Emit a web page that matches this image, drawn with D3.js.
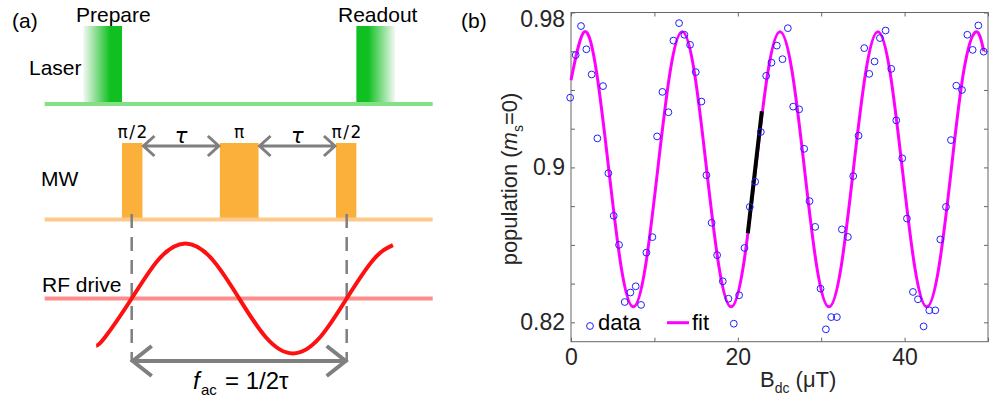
<!DOCTYPE html>
<html>
<head>
<meta charset="utf-8">
<script src="https://cdn.jsdelivr.net/npm/d3@7"></script>
<style>
    body { margin: 0; background: #fff; }
    svg { display: block; font-family: "Liberation Sans", Arial, sans-serif; }
</style>
</head>
<body>
<div id="chart"></div>
<script>
// ---- panel (b): measured population vs B_dc ----
const bField = [-0.1, 0.56, 1.2, 1.84, 2.48, 3.16, 3.84, 4.48, 5.12, 5.76,
    6.44, 7.12, 7.76, 8.4, 9.04, 9.76, 10.32, 10.96, 11.68, 12.28,
    12.96, 13.6, 14.28, 14.96, 15.64, 16.24, 16.86, 17.52, 18.2, 18.88,
    19.52, 20.16, 20.8, 21.44, 22.08, 22.76, 23.4, 24.04, 24.68, 25.36,
    26.0, 26.64, 27.36, 27.96, 28.6, 29.28, 29.92, 30.56, 31.2, 31.88,
    32.48, 33.2, 33.84, 34.48, 35.16, 35.76, 36.4, 37.04, 37.72, 38.4,
    39.0, 39.72, 40.28, 41.0, 41.6, 42.28, 42.96, 43.68, 44.28, 44.96,
    45.56, 46.2, 46.88, 47.52, 48.16, 48.84, 49.48];
const population = [0.936, 0.958, 0.973, 0.961, 0.948, 0.915, 0.942, 0.897, 0.875, 0.860,
    0.8305, 0.8354, 0.8386, 0.829, 0.856, 0.864, 0.916, 0.939, 0.9285, 0.9655,
    0.9745, 0.9685, 0.9633, 0.9492, 0.934, 0.896, 0.8714, 0.8547, 0.8412, 0.8322,
    0.8193, 0.834, 0.8584, 0.8796, 0.8926, 0.9183, 0.9473, 0.9541, 0.9629, 0.9559,
    0.9719, 0.9314, 0.930, 0.9096, 0.8826, 0.8693, 0.8374, 0.8164, 0.8227, 0.8227,
    0.868, 0.8641, 0.8955, 0.9164, 0.9616, 0.9483, 0.9547, 0.9668, 0.9707, 0.9509,
    0.9243, 0.9047, 0.8736, 0.8357, 0.8319, 0.8179, 0.8262, 0.8262, 0.8628, 0.8796,
    0.9141, 0.9422, 0.940, 0.9685, 0.9607, 0.9733, 0.9598];

// fit curve at ~1/8 period steps
const fitB = [0, 1.6, 3.07, 4.53, 6.0, 7.47, 8.93, 10.4, 11.87, 13.33,
    14.8, 16.26, 17.73, 19.2, 20.66, 22.13, 23.6, 25.06, 26.53, 28.0,
    29.46, 30.93, 32.4, 33.86, 35.33, 36.8, 38.26, 39.73, 41.2, 42.66,
    44.13, 45.6, 47.06, 48.53, 49.5];
const fitPop = [0.945, 0.970, 0.949, 0.899, 0.849, 0.828, 0.849, 0.899, 0.949, 0.970,
    0.949, 0.899, 0.849, 0.828, 0.849, 0.899, 0.949, 0.970, 0.949, 0.899,
    0.849, 0.828, 0.849, 0.899, 0.949, 0.970, 0.949, 0.899, 0.849, 0.828,
    0.849, 0.899, 0.949, 0.970, 0.960];

// black highlighted slope segment
const slopeB = [21.2, 22.88];
const slopePop = [0.866, 0.929];

const xTicks = [0, 10, 20, 30, 40, 50];
const xTickLabels = ["0", "", "20", "", "40", ""];
const yTicks = [0.82, 0.84, 0.86, 0.88, 0.90, 0.92, 0.94, 0.96, 0.98];
const yTickLabels = ["0.82", "", "", "", "0.9", "", "", "", "0.98"];

// ---- panel (a): pulse sequence, time in units of tau ----
const lineSpan = [-0.81, 2.8];
const laserPulses = [
    {label: "Prepare", start: -0.45, solid: -0.2, end: -0.09, fade: "left"},
    {label: "Readout", start: 2.09, solid: 2.2, end: 2.45, fade: "right"}
];
const mwPulses = [
    {label: "π/2", start: -0.09, end: 0.1},
    {label: "π", start: 0.82, end: 1.18},
    {label: "π/2", start: 1.9, end: 2.09}
];
const tauGaps = [[0.1, 0.82], [1.18, 1.9]];
const rfMarks = [0, 2];
// RF drive waveform (normalised amplitude)
const rfT = [-0.33, -0.25, 0, 0.25, 0.5, 0.75, 1.0, 1.25, 1.5, 1.75, 2.0, 2.25, 2.43];
const rfV = [-0.86, -0.71, 0, 0.71, 1, 0.71, 0, -0.71, -1, -0.71, 0, 0.71, 0.97];

const W = 997, H = 403;
const gray = "#7f7f7f";

class FigureD3 {
    margin = {top: 12.5, right: 9, bottom: 61.3, left: 571};
    width;
    height;
    svg;
    plotG;

    constructor(el){
        this.el = el;
    }

    create = function(){
        this.svg = d3.select(this.el).append("svg")
            .attr("width", W)
            .attr("height", H);
        this.defs = this.svg.append("defs");
        this.width = W - this.margin.left - this.margin.right;
        this.height = H - this.margin.top - this.margin.bottom;
    }

    arrow(g, x1, x2, y, head, spread, sw){
        const p = d3.path();
        p.moveTo(x1 + head, y - spread); p.lineTo(x1, y); p.lineTo(x1 + head, y + spread);
        p.moveTo(x1, y); p.lineTo(x2, y);
        p.moveTo(x2 - head, y - spread); p.lineTo(x2, y); p.lineTo(x2 - head, y + spread);
        g.append("path").attr("d", p.toString())
            .attr("fill", "none").attr("stroke", gray)
            .attr("stroke-width", sw).attr("stroke-linejoin", "miter");
    }

    renderSchematic(){
        const g = this.svg.append("g").attr("class", "schematic");
        const t = d3.scaleLinear().domain([0, 1]).range([131.7, 239.2]);
        const rfY = d3.scaleLinear().domain([-1, 1]).range([353.5, 243.5]);

        g.append("text").attr("x", 12).attr("y", 28).attr("font-size", 21).text("(a)");

        // laser row
        laserPulses.forEach((d, i) => {
            const id = "laserGrad" + i;
            const frac = (d.solid - d.start) / (d.end - d.start);
            const grad = this.defs.append("linearGradient").attr("id", id);
            if (d.fade === "left") {
                grad.append("stop").attr("offset", 0).attr("stop-color", "#f4f8f4");
                grad.append("stop").attr("offset", frac).attr("stop-color", "#10c020");
                grad.append("stop").attr("offset", 1).attr("stop-color", "#10c020");
            } else {
                grad.append("stop").attr("offset", 0).attr("stop-color", "#10c020");
                grad.append("stop").attr("offset", frac).attr("stop-color", "#10c020");
                grad.append("stop").attr("offset", 1).attr("stop-color", "#f4f8f4");
            }
            g.append("rect")
                .attr("x", t(d.start)).attr("y", 26)
                .attr("width", t(d.end) - t(d.start)).attr("height", 76)
                .attr("fill", `url(#${id})`);
        });
        g.append("line").attr("x1", t(lineSpan[0])).attr("x2", t(lineSpan[1]))
            .attr("y1", 104).attr("y2", 104)
            .attr("stroke", "#84e084").attr("stroke-width", 4);
        g.append("text").attr("x", 76).attr("y", 22).attr("font-size", 21).text(laserPulses[0].label);
        g.append("text").attr("x", 338).attr("y", 22).attr("font-size", 21).text(laserPulses[1].label);
        g.append("text").attr("x", 29).attr("y", 75).attr("font-size", 21).text("Laser");

        // MW row
        g.selectAll(".mwPulse").data(mwPulses).join("rect")
            .attr("class", "mwPulse")
            .attr("x", d => t(d.start)).attr("y", 143)
            .attr("width", d => t(d.end) - t(d.start)).attr("height", 76)
            .attr("fill", "#fbb03b");
        g.selectAll(".mwLabel").data(mwPulses).join("text")
            .attr("class", "mwLabel")
            .attr("x", d => t((d.start + d.end) / 2) + (d.label === "π" ? 0 : 1))
            .attr("y", 138)
            .attr("text-anchor", "middle")
            .attr("font-family", "DejaVu Sans, sans-serif")
            .attr("font-size", 17)
            .attr("letter-spacing", d => d.label === "π" ? 0 : 1.5)
            .text(d => d.label);
        g.append("line").attr("x1", t(lineSpan[0])).attr("x2", t(lineSpan[1]))
            .attr("y1", 219.5).attr("y2", 219.5)
            .attr("stroke", "#fdca8c").attr("stroke-width", 4);
        tauGaps.forEach(([a, b]) => {
            this.arrow(g, t(a) + 1, t(b) - 1, 146, 11, 10, 3);
            g.append("text").attr("x", t((a + b) / 2)).attr("y", 143)
                .attr("text-anchor", "middle")
                .attr("font-family", "DejaVu Sans, sans-serif")
                .attr("font-style", "italic")
                .attr("font-size", 21).text("τ");
        });
        g.append("text").attr("x", 41).attr("y", 186).attr("font-size", 21).text("MW");

        // RF row
        rfMarks.forEach(m => {
            g.append("line").attr("x1", t(m)).attr("x2", t(m))
                .attr("y1", 214).attr("y2", 362)
                .attr("stroke", gray).attr("stroke-width", 2.5)
                .attr("stroke-dasharray", "14,9");
        });
        g.append("line").attr("x1", t(lineSpan[0])).attr("x2", t(lineSpan[1]))
            .attr("y1", 298.5).attr("y2", 298.5)
            .attr("stroke", "#ff0000").attr("stroke-opacity", 0.45).attr("stroke-width", 4);
        const rfLine = d3.line().x(i => t(rfT[i])).y(i => rfY(rfV[i])).curve(d3.curveNatural);
        g.append("path").attr("d", rfLine(d3.range(rfT.length)))
            .attr("fill", "none").attr("stroke", "#ff1010").attr("stroke-width", 4);
        g.append("text").attr("x", 42).attr("y", 292).attr("font-size", 21).text("RF drive");

        this.arrow(g, t(rfMarks[0]) + 1, t(rfMarks[1]) - 1, 361, 19, 15, 4);
        g.append("text").attr("x", 193).attr("y", 389).attr("font-size", 24)
            .attr("font-style", "italic").text("f");
        g.append("text").attr("x", 201).attr("y", 395).attr("font-size", 15).text("ac");
        g.append("text").attr("x", 225).attr("y", 389).attr("font-size", 24).text("= 1/2τ");
    }

    renderScatter(){
        const x = d3.scaleLinear().domain([0, 50]).range([0, this.width]);
        const y = d3.scaleLinear().domain([0.81, 0.98]).range([this.height, 0]);
        const g = this.svg.append("g")
            .attr("transform", `translate(${this.margin.left},${this.margin.top})`);
        this.plotG = g;

        this.svg.append("text").attr("x", 461).attr("y", 28).attr("font-size", 21).text("(b)");

        // axes, ticks pointing inwards on all four sides
        const axisColor = "#666";
        const xb = g.append("g").attr("transform", `translate(0,${this.height})`)
            .call(d3.axisBottom(x).tickValues(xTicks).tickSize(-4).tickPadding(7)
                .tickFormat((d, i) => xTickLabels[i]));
        const xt = g.append("g")
            .call(d3.axisTop(x).tickValues(xTicks).tickSize(-4).tickFormat(""));
        const yl = g.append("g")
            .call(d3.axisLeft(y).tickValues(yTicks).tickSize(-4).tickPadding(6)
                .tickFormat((d, i) => yTickLabels[i]));
        const yr = g.append("g").attr("transform", `translate(${this.width},0)`)
            .call(d3.axisRight(y).tickValues(yTicks).tickSize(-4).tickFormat(""));
        [xb, xt, yl, yr].forEach(a => {
            a.select(".domain").remove();
            a.selectAll("line").attr("stroke", axisColor);
            a.selectAll("text").attr("font-size", 23).attr("fill", "#262626")
                .attr("font-family", "Liberation Sans, Arial, sans-serif");
        });
        yl.selectAll("text").filter(d => d === 0.98).attr("dy", "0.6em");
        g.append("rect").attr("width", this.width).attr("height", this.height)
            .attr("fill", "none").attr("stroke", axisColor).attr("stroke-width", 1);

        // fit + highlighted slope
        const fitLine = d3.line().x(i => x(fitB[i])).y(i => y(fitPop[i])).curve(d3.curveNatural);
        g.append("path").attr("d", fitLine(d3.range(fitB.length)))
            .attr("fill", "none").attr("stroke", "#ff00ff").attr("stroke-width", 3);
        g.append("line")
            .attr("x1", x(slopeB[0])).attr("y1", y(slopePop[0]))
            .attr("x2", x(slopeB[1])).attr("y2", y(slopePop[1]))
            .attr("stroke", "#000").attr("stroke-width", 4);

        // data points
        g.selectAll(".dot").data(d3.range(bField.length)).join("circle")
            .attr("class", "dot")
            .attr("cx", i => x(bField[i])).attr("cy", i => y(population[i]))
            .attr("r", 3.4)
            .attr("fill", "none").attr("stroke", "#1f1fff").attr("stroke-width", 1);

        // legend (no box)
        const lg = this.svg.append("g");
        lg.append("circle").attr("cx", 590).attr("cy", 326).attr("r", 3.4)
            .attr("fill", "none").attr("stroke", "#1f1fff");
        lg.append("text").attr("x", 598).attr("y", 329.5).attr("font-size", 22).text("data");
        lg.append("line").attr("x1", 667).attr("x2", 689).attr("y1", 322.7).attr("y2", 322.7)
            .attr("stroke", "#ff00ff").attr("stroke-width", 3);
        lg.append("text").attr("x", 692).attr("y", 329.5).attr("font-size", 22).text("fit");

        // axis titles
        const xl = this.svg.append("text").attr("x", 760).attr("y", 386.7)
            .attr("font-size", 22).attr("fill", "#262626");
        xl.append("tspan").text("B");
        xl.append("tspan").attr("font-size", 14).attr("dy", 6).text("dc");
        xl.append("tspan").attr("dy", -6).text(" (μT)");

        const ylab = this.svg.append("text")
            .attr("transform", "translate(517,179) rotate(-90)")
            .attr("text-anchor", "middle")
            .attr("font-size", 22).attr("fill", "#262626");
        ylab.append("tspan").text("population (");
        ylab.append("tspan").attr("font-style", "italic").text("m");
        ylab.append("tspan").attr("font-size", 14).attr("dy", 6).text("s");
        ylab.append("tspan").attr("dy", -6).text("=0)");
    }
}

const fig = new FigureD3(document.getElementById("chart"));
fig.create();
fig.renderSchematic();
fig.renderScatter();
</script>
</body>
</html>
